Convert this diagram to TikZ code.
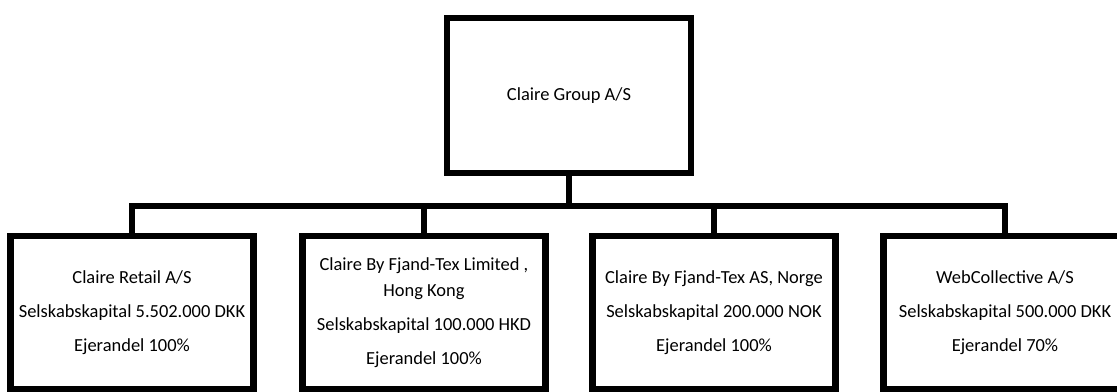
\documentclass[tikz,border=0pt]{standalone}
\usepackage{fontspec}
\setmainfont{Carlito}

\begin{document}
\begin{tikzpicture}[x=0.02cm,y=-0.02cm,
  firm/.style={draw,line width=3.6pt,minimum width=4.86cm,minimum height=3.06cm,
    align=center,inner sep=0pt,font=\fontsize{10.5}{14.7}\selectfont},
  link/.style={line width=3pt,line join=miter}]
\useasboundingbox (0,0) rectangle (1117,392);
\clip (0,0) rectangle (1117,392);
\node[firm,minimum width=4.88cm,minimum height=3.1cm] (group) at (569,95.5) {Claire Group A/S};
\node[firm] (retail) at (132,312.5) {Claire Retail A/S\\[4.6pt]
  Selskabskapital 5.502.000 DKK\\[4.6pt] Ejerandel 100\%};
\node[firm] (hk) at (424,312.5) {Claire By Fjand-Tex Limited ,\\ Hong Kong\\[4.6pt]
  Selskabskapital 100.000 HKD\\[4.6pt] Ejerandel 100\%};
\node[firm] (norge) at (714,312.5) {Claire By Fjand-Tex AS, Norge\\[4.6pt]
  Selskabskapital 200.000 NOK\\[4.6pt] Ejerandel 100\%};
\node[firm] (web) at (1005,312.5) {WebCollective A/S\\[4.6pt]
  Selskabskapital 500.000 DKK\\[4.6pt] Ejerandel 70\%};
\coordinate (bar) at (569,206);
\draw[link] (group.south) -- (group |- bar);
\draw[link] (retail.north) -- (retail |- bar) -- (web |- bar) -- (web.north);
\foreach \firm in {hk,norge}
    \draw[link] (\firm.north) -- (\firm |- bar);
\end{tikzpicture}
\end{document}
